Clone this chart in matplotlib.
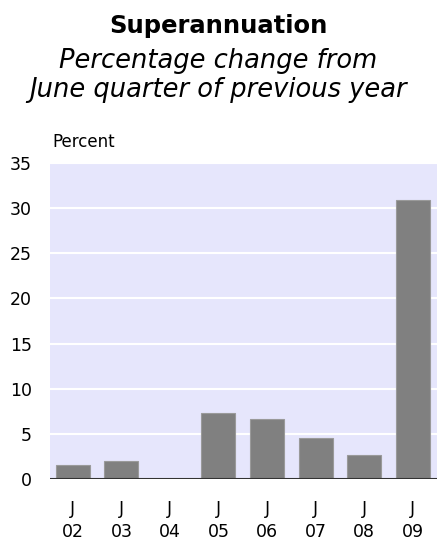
import numpy as np
import matplotlib
matplotlib.use("Agg")
import matplotlib.pyplot as plt

# June quarter, % change from previous year
years = ["02", "03", "04", "05", "06", "07", "08", "09"]
months = ["J"] * len(years)
values = [1.6, 2.0, 0.0, 7.35, 6.7, 4.5, 2.7, 30.9]
yticks = [0, 5, 10, 15, 20, 25, 30, 35]

fig = plt.figure(figsize=(4.37, 5.44), dpi=100)
ax = fig.add_axes([50 / 437, 1 - 479 / 544, 387 / 437, 316 / 544])

x = np.arange(len(values))
ax.set_facecolor("#e6e6fc")
ax.bar(x, values, width=0.7, color="#808080", edgecolor="#9a9a9a", linewidth=0.8, zorder=3)
ax.axhline(0, color="#333333", linewidth=1.5, zorder=4)

ax.set_ylim(0, 35)
ax.set_xlim(-0.47, 7.5)
ax.set_yticks(yticks)
ax.set_yticklabels([str(t) for t in yticks], fontsize=12.5, family="DejaVu Sans")
ax.set_xticks(x)
ax.set_xticklabels([m + "\n" + y for m, y in zip(months, years)], fontsize=12.5,
                   family="DejaVu Sans", linespacing=1.4)
ax.tick_params(length=0)
ax.tick_params(axis="x", pad=15)
ax.tick_params(axis="y", pad=13)
ax.grid(axis="y", color="white", linewidth=1.5, zorder=1)
for s in ax.spines.values():
    s.set_visible(False)

fig.text(52 / 437, 1 - 147 / 544, "Percent", fontsize=12, family="DejaVu Sans", va="baseline")
fig.text(0.5, 1 - 33 / 544, "Superannuation", fontsize=17.5, fontweight="bold",
         family="DejaVu Sans", ha="center", va="baseline")
fig.text(0.5, 1 - 68 / 544, "Percentage change from", fontsize=18.5, style="italic",
         family="DejaVu Sans", ha="center", va="baseline")
fig.text(0.5, 1 - 97 / 544, "June quarter of previous year", fontsize=18.5, style="italic",
         family="DejaVu Sans", ha="center", va="baseline")

fig.savefig("out.png", dpi=100)
